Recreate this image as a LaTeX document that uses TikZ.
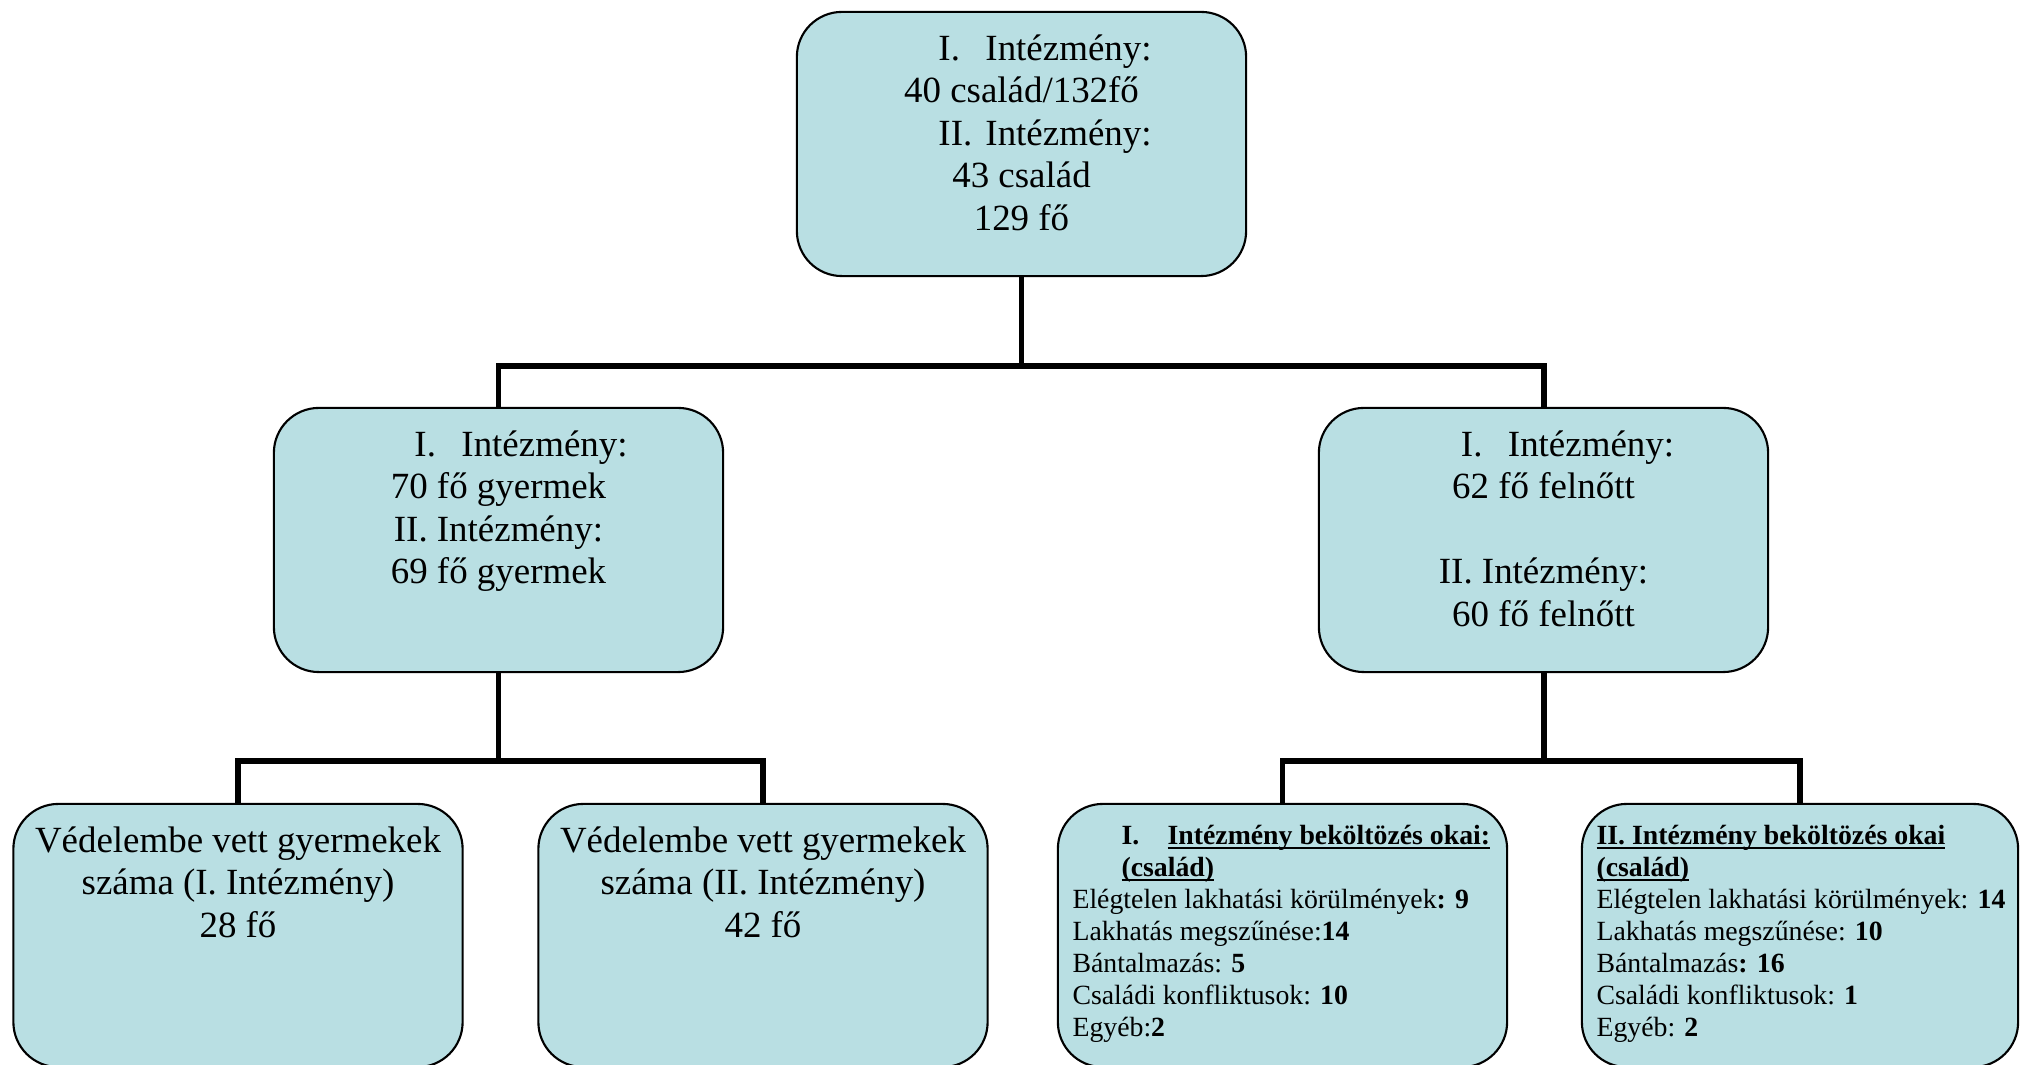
\documentclass[tikz,border=0pt]{standalone}
\usepackage{fontspec}
\setmainfont{Liberation Serif}
\usetikzlibrary{positioning}
\definecolor{boxfill}{RGB}{185,223,227}
\newsavebox{\ulbox}
\newcommand{\ulin}[1]{\sbox{\ulbox}{#1}\rlap{\rule[-0.16em]{\wd\ulbox}{0.08em}}\usebox{\ulbox}}
\newcommand{\numI}[1]{\makebox[0.47cm][l]{#1}}

\begin{document}
\begin{tikzpicture}[
  x=0.01cm, y=-0.01cm,
  box/.style={draw, line width=0.6pt, fill=boxfill, rounded corners=0.45cm, minimum width=4.49cm, minimum height=2.64cm, inner sep=0pt},
  lowbox/.style={box, minimum height=2.63cm},
  txt/.style={align=center, inner sep=0pt, font=\fontsize{10.5}{12.1}\selectfont},
  small/.style={align=left, inner sep=0pt, font=\fontsize{7.9}{9.1}\selectfont},
  conn/.style={line width=1.7pt}
]
\useasboundingbox (0,0) rectangle (2020,1065);
\clip (0,0) rectangle (2020,1065);

% boxes
\node[box] (top) at (1021.5,144) {};
\node[box] (gyer) at (498.5,540) {};
\node[box] (feln) at (1543.5,540) {};
\node[lowbox] (vedI) at (238,935.5) {};
\node[lowbox] (vedII) at (763,935.5) {};
\node[lowbox] (okI) at (1282.5,935.5) {};
\node[lowbox, minimum width=4.36cm] (okII) at (1800,935.5) {};

% connectors
\draw[conn] (top.south) -- ++(0,89) -| (gyer.north);
\draw[conn] (top.south) -- ++(0,89) -| (feln.north);
\draw[conn] (gyer.south) -- ++(0,88) -| (vedI.north);
\draw[conn] (gyer.south) -- ++(0,88) -| (vedII.north);
\draw[conn] (feln.south) -- ++(0,88) -| (okI.north);
\draw[conn] (feln.south) -- ++(0,88) -| (okII.north);

% texts
\node[txt, below=0.23cm of top.north] (topTxt) {\hspace*{0.47cm}\numI{I.}Intézmény:\\
  40 család/132fő\\
  \hspace*{0.47cm}\numI{II.}Intézmény:\\
  43 család\\
  129 fő};
\node[txt, below=0.23cm of gyer.north] (gyerTxt) {\hspace*{0.45cm}\numI{I.}Intézmény:\\
  70 fő gyermek\\
  II. Intézmény:\\
  69 fő gyermek};
\node[txt, below=0.23cm of feln.north] (felnTxt) {\hspace*{0.48cm}\numI{I.}Intézmény:\\
  62 fő felnőtt\\[12.1pt]
  II. Intézmény:\\
  60 fő felnőtt};
\node[txt, below=0.23cm of vedI.north] (vedITxt) {Védelembe vett gyermekek\\
  száma (I. Intézmény)\\
  28 fő};
\node[txt, below=0.23cm of vedII.north] (vedIITxt) {Védelembe vett gyermekek\\
  száma (II. Intézmény)\\
  42 fő};
\node[small, below right=0.22cm and 0.15cm of okI.north west] (okITxt) {%
  \hspace*{0.49cm}\textbf{\makebox[0.46cm][l]{I.}\ulin{Intézmény beköltözés okai:}}\\
  \hspace*{0.49cm}\textbf{\ulin{(család)}}\\
  Elégtelen lakhatási körülmények\textbf{: 9}\\
  Lakhatás megszűnése:\textbf{14}\\
  Bántalmazás: \textbf{5}\\
  Családi konfliktusok: \textbf{10}\\
  Egyéb:\textbf{2}};
\node[small, below right=0.22cm and 0.15cm of okII.north west] (okIITxt) {%
  \textbf{\ulin{II. Intézmény beköltözés okai}}\\
  \textbf{\ulin{(család)}}\\
  Elégtelen lakhatási körülmények: \textbf{14}\\
  Lakhatás megszűnése: \textbf{10}\\
  Bántalmazás\textbf{: 16}\\
  Családi konfliktusok: \textbf{1}\\
  Egyéb: \textbf{2}};
\end{tikzpicture}
\end{document}
